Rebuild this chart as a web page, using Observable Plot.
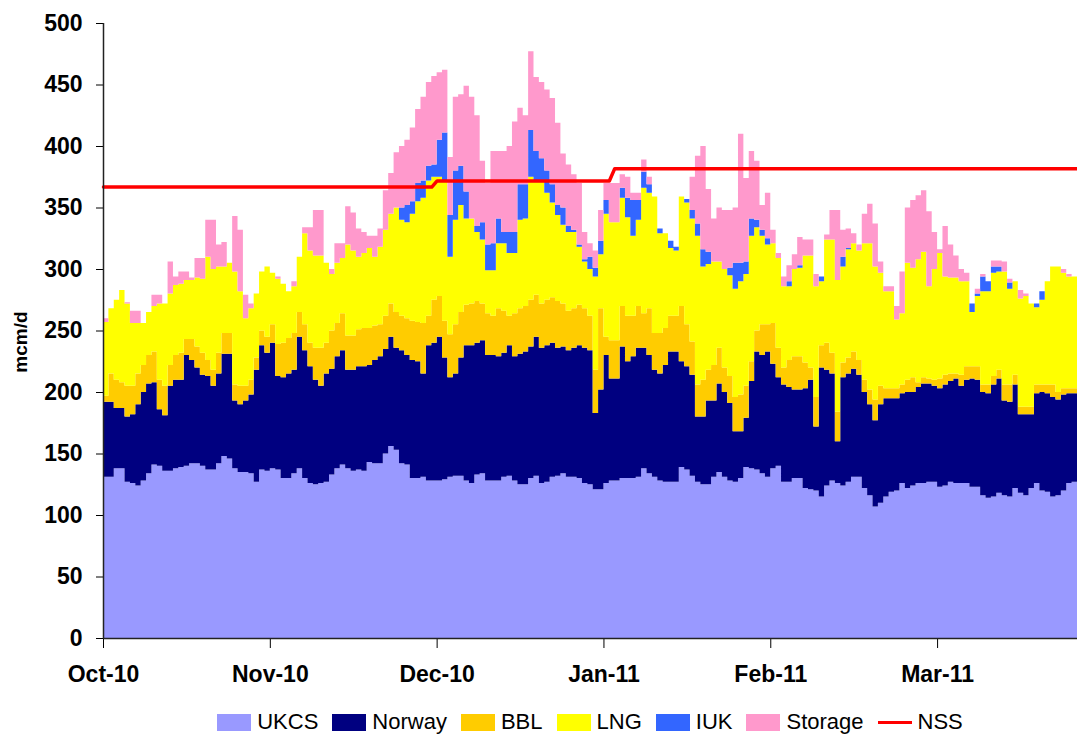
<!DOCTYPE html>
<html>
<head>
<meta charset="utf-8">
<script src="https://cdn.jsdelivr.net/npm/d3@7"></script>
<script src="https://cdn.jsdelivr.net/npm/@observablehq/plot@0.6"></script>
<style>
  html, body { margin: 0; padding: 0; background: #fff; }
  body { position: relative; width: 1077px; font-family: "Liberation Sans", Arial, sans-serif; }
  #ylab { position: absolute; left: 21px; top: 342px; transform: translate(-50%, -50%) rotate(-90deg);
          font-weight: bold; font-size: 19px; white-space: nowrap; color: #000; }
  #legend { position: relative; width: 1077px; height: 38px; }
  #legend .items { position: absolute; left: 103px; width: 974px; top: 10px; display: flex;
                   justify-content: center; align-items: center; font-size: 22px; line-height: 24px; color: #000; }
  #legend .item { display: flex; align-items: center; margin: 0 7px; }
  #legend .sw { width: 34px; height: 17px; margin-right: 6px; }
  #legend .ln { width: 34px; height: 3px; margin-right: 6px; }
</style>
</head>
<body>
<div id="chart"></div>
<div id="ylab">mcm/d</div>
<div id="legend"></div>
<script>
// ---- Data (mcm/d), daily from 1 Oct 2010 to 30 Mar 2011 ----
const firstDay = "2010-10-01";

const ukcs = [
  131,131,138,138,127,126,124,128,134,141,140,136,136,138,139,140,142,142,140,137,137,142,148,146,138,135,135,134,127,137,136,
  138,137,130,130,134,138,130,126,125,126,127,133,138,141,138,136,137,136,143,142,142,150,156,153,142,141,130,130,131,128,
  128,128,129,131,132,132,128,126,133,134,128,128,128,131,132,128,125,125,130,132,126,127,131,132,134,131,131,130,126,125,121,
  121,126,128,128,130,130,130,131,138,134,131,128,127,127,127,139,137,132,127,125,125,131,135,131,128,127,130,139,138,137,134,
  131,138,140,127,127,130,130,122,121,120,115,124,128,126,124,127,131,131,122,116,107,110,115,119,120,126,122,124,
  126,126,127,127,123,124,127,126,126,126,123,123,116,114,115,118,116,115,122,118,116,122,126,120,119,115,116,120,126,127
];
const norway = [
  61,61,49,49,53,56,66,72,73,67,46,45,69,72,71,90,84,78,74,76,68,73,83,85,55,55,58,64,91,101,96,
  102,76,82,85,84,107,104,95,85,79,88,86,91,93,80,82,84,85,79,84,87,85,89,83,92,89,96,95,84,110,
  112,117,99,81,83,96,110,112,107,108,102,102,101,101,106,101,106,108,107,113,110,111,109,104,103,103,105,108,110,109,62,
  81,104,83,83,107,95,99,105,98,96,87,87,95,106,106,86,84,82,53,55,68,62,72,69,63,41,38,40,71,96,96,
  102,85,72,79,77,72,72,81,89,52,105,94,87,34,88,88,88,83,78,74,70,80,80,76,75,73,78,76,
  78,81,80,78,80,82,82,85,79,84,88,87,84,85,91,93,77,77,84,64,66,60,73,80,80,81,78,78,73,72
];
const bbl = [
  5,23,23,21,25,23,25,22,23,25,24,24,17,20,22,13,17,17,18,13,13,17,17,17,13,15,12,12,10,12,13,
  15,26,28,29,30,20,21,19,26,31,25,31,27,30,28,28,30,31,30,28,26,27,27,29,28,30,32,32,41,24,
  35,33,30,35,40,37,33,34,34,30,34,32,39,34,24,35,37,37,38,34,36,37,37,38,35,32,32,33,32,28,35,
  66,15,31,31,33,37,33,34,28,38,30,33,30,29,29,45,34,27,26,30,25,29,29,20,22,28,30,26,16,17,25,
  22,33,24,14,22,27,27,21,10,24,18,22,17,24,12,13,14,12,10,12,17,15,8,8,8,7,10,12,
  4,5,4,5,8,8,6,4,9,11,10,11,6,7,7,7,13,14,8,6,6,6,7,6,7,10,6,5,4,4
];
const lng = [
  60,53,65,75,67,51,41,34,35,37,62,67,58,57,56,48,48,56,60,84,82,70,54,57,92,77,55,58,52,48,57,
  42,53,48,38,38,45,74,75,75,75,65,46,49,45,74,69,59,61,65,56,63,70,73,85,78,78,87,98,102,110,
  100,97,114,63,85,87,70,69,56,52,35,37,53,55,51,49,72,71,100,93,100,87,77,70,64,64,62,47,38,38,76,
  44,100,96,96,88,80,65,70,102,94,111,81,77,55,53,89,99,100,121,92,86,84,70,80,82,88,92,91,102,84,72,
  65,65,73,66,60,71,72,87,91,90,52,84,92,107,78,88,88,89,111,119,108,92,79,79,56,58,95,89,
  100,102,75,90,102,80,78,78,76,69,44,57,76,76,84,80,92,78,76,88,90,84,63,69,84,96,102,94,91,91
];
const iuk = [
  0,0,0,0,0,0,0,0,0,0,0,0,0,0,0,0,0,0,0,0,0,0,0,0,0,0,0,0,0,0,0,
  0,0,0,0,0,0,0,0,0,0,0,0,0,0,0,0,0,0,0,0,0,0,0,0,10,14,10,15,14,12,
  10,30,39,34,40,32,22,0,5,14,21,22,20,9,17,17,29,28,38,24,18,18,15,8,14,5,2,2,2,10,7,
  11,11,0,0,8,16,29,16,13,7,0,4,0,6,3,0,3,7,10,14,10,0,0,0,6,21,15,10,14,6,5,
  5,0,0,0,4,0,2,0,0,0,4,0,0,0,8,1,0,0,0,0,0,0,0,0,0,0,0,0,
  0,0,0,0,0,0,0,0,0,0,7,2,12,8,5,4,0,5,0,0,0,0,3,7,0,0,0,0,0,0
];
const storage = [
  3,0,0,0,1,10,10,0,0,9,7,0,26,7,10,7,2,16,17,30,40,18,20,0,45,50,19,4,0,0,0,
  0,2,0,0,4,0,5,19,37,37,0,4,16,12,31,31,23,17,10,17,15,32,33,45,50,53,60,60,68,68,
  72,55,51,47,60,58,86,99,90,50,50,75,55,66,70,90,62,56,64,60,62,66,70,67,44,50,45,50,22,11,14,
  25,14,32,32,11,17,6,6,10,6,0,0,0,0,0,0,0,27,55,84,51,35,44,48,47,45,105,68,55,48,20,
  37,11,4,8,13,12,23,13,13,10,0,4,24,57,22,16,8,5,24,32,35,9,4,4,11,34,45,55,
  52,50,61,30,3,41,27,18,10,7,0,4,2,0,5,5,8,3,0,7,2,0,0,0,0,0,0,3,2,0
];

// NSS (red line) breakpoints
const nssDates = ["2010-10-01", "2010-12-01", "2010-12-02", "2011-01-03", "2011-01-04", "2011-03-31"];
const nssValues = [367, 367, 372, 372, 382, 382];

const seriesNames = ["UKCS", "Norway", "BBL", "LNG", "IUK", "Storage"];
const seriesColors = ["#9999ff", "#000080", "#ffcc00", "#ffff00", "#3366ff", "#ff99cc"];
const nssName = "NSS";
const nssColor = "#ff0000";

const xTickDates = ["2010-10-01", "2010-11-01", "2010-12-02", "2011-01-02", "2011-02-02", "2011-03-05"];
const xTickLabels = ["Oct-10", "Nov-10", "Dec-10", "Jan-11", "Feb-11", "Mar-11"];
const yTicks = [0, 50, 100, 150, 200, 250, 300, 350, 400, 450, 500];

// ---- Build tables ----
const seriesValues = [ukcs, norway, bbl, lng, iuk, storage];
const nDays = ukcs.length;
const t0 = new Date(firstDay);
const dates = d3.range(nDays + 1).map(i => d3.utcDay.offset(t0, i));
const rows = [];
seriesNames.forEach((name, s) => {
  for (let i = 0; i <= nDays; i++) {
    // last row closes the final day's step
    rows.push({date: dates[i], series: name, value: seriesValues[s][Math.min(i, nDays - 1)]});
  }
});
const nssRows = nssDates.map((d, i) => ({date: new Date(d), value: nssValues[i]}));
const tickDates = xTickDates.map(d => new Date(d));
const tickLabelMap = new Map(tickDates.map((d, i) => [+d, xTickLabels[i]]));

const chart = Plot.plot({
  width: 1077,
  height: 700,
  marginLeft: 103,
  marginRight: 0,
  marginTop: 23,
  marginBottom: 62,
  style: {
    fontFamily: '"Liberation Sans", Arial, sans-serif',
    fontSize: "23px",
    fontWeight: "bold",
    color: "#000",
    background: "#fff",
    overflow: "visible"
  },
  x: {
    type: "utc",
    domain: [dates[0], dates[nDays]],
    ticks: tickDates,
    tickFormat: d => tickLabelMap.get(+d),
    tickSize: 10,
    tickPadding: 17,
    label: null
  },
  y: {
    domain: [0, 500],
    ticks: yTicks,
    tickSize: 7,
    tickPadding: 14,
    label: null
  },
  color: {domain: seriesNames, range: seriesColors},
  marks: [
    Plot.areaY(rows, {x: "date", y: "value", z: "series", fill: "series", order: seriesNames, curve: "step-after"}),
    Plot.line(nssRows, {x: "date", y: "value", stroke: nssColor, strokeWidth: 3.5}),
    Plot.ruleY([0], {stroke: "#222", strokeWidth: 1.5}),
    Plot.ruleX([dates[0]], {stroke: "#222", strokeWidth: 1.5})
  ]
});
document.getElementById("chart").appendChild(chart);

// ---- Legend ----
const legend = d3.select("#legend").append("div").attr("class", "items");
seriesNames.forEach((name, i) => {
  const it = legend.append("div").attr("class", "item");
  it.append("div").attr("class", "sw").style("background", seriesColors[i]);
  it.append("span").text(name);
});
const nssItem = legend.append("div").attr("class", "item");
nssItem.append("div").attr("class", "ln").style("background", nssColor);
nssItem.append("span").text(nssName);
</script>
</body>
</html>
